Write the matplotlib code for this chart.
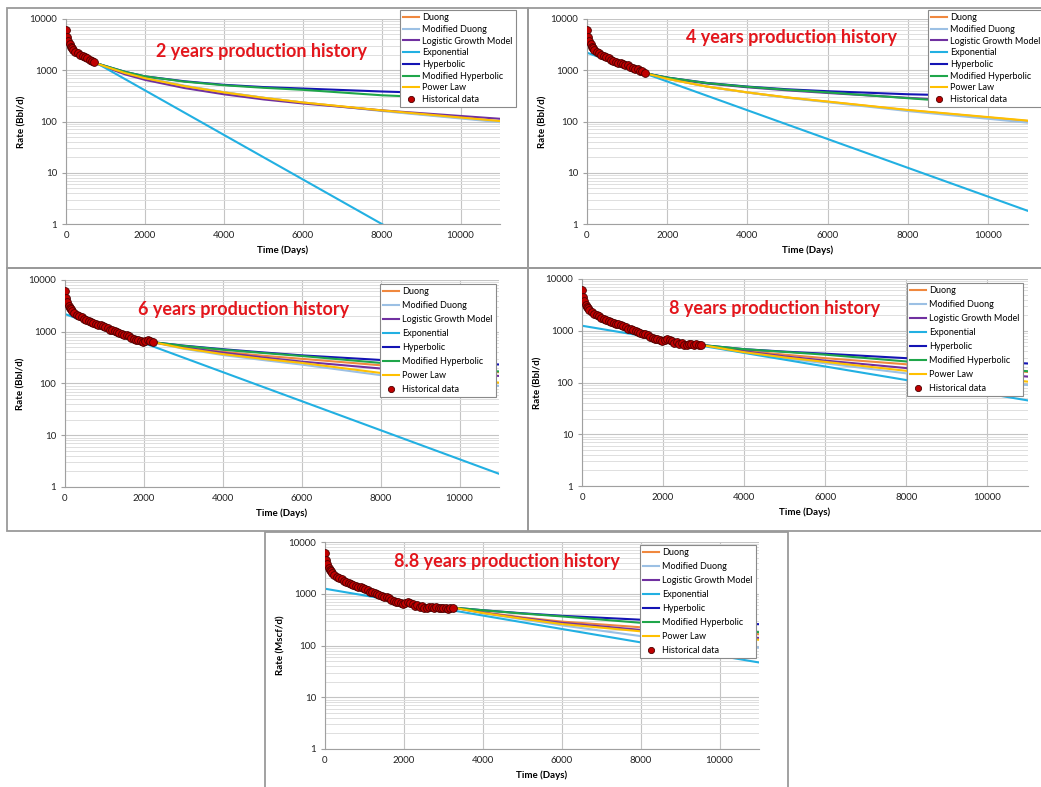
import matplotlib
matplotlib.use("Agg")
import matplotlib.pyplot as plt
from matplotlib.patches import Rectangle
from matplotlib.ticker import LogLocator, NullFormatter, FixedLocator

W, H = 1041, 787

# historical production (days, rate)
hist_t = [10, 30, 60, 90, 120, 150, 180, 240, 300, 360, 420, 480, 540, 600, 660, 720,
          780, 840, 900, 960, 1020, 1080, 1140, 1200, 1260, 1320, 1380, 1440, 1500, 1560,
          1620, 1680, 1740, 1800, 1860, 1920, 1980, 2040, 2100, 2160, 2220, 2280, 2340,
          2400, 2460, 2520, 2580, 2640, 2700, 2760, 2820, 2880, 2940, 3000, 3060, 3120,
          3180, 3240]
hist_q = [6000, 4500, 3700, 3200, 2900, 2700, 2500, 2300, 2150, 2000, 1900, 1800, 1700,
          1600, 1520, 1450, 1400, 1380, 1330, 1280, 1250, 1180, 1100, 1080, 1050, 980,
          950, 900, 870, 850, 820, 760, 720, 700, 680, 650, 620, 660, 680, 650, 630, 580,
          600, 560, 570, 540, 530, 560, 550, 540, 550, 540, 530, 540, 520, 500, 540, 530]
hist_end = [730, 1460, 2220, 2950, 3250]

titles = ["2 years production history", "4 years production history",
          "6 years production history", "8 years production history",
          "8.8 years production history"]
ylabels = ["Rate (Bbl/d)", "Rate (Bbl/d)", "Rate (Bbl/d)", "Rate (Bbl/d)", "Rate (Mscf/d)"]

# forecast curves, one row per panel
fc_t = [[730, 1000, 1500, 2000, 3000, 4000, 5000, 6000, 8000, 11000],
        [1460, 2000, 3000, 4000, 5000, 6000, 8000, 11000],
        [2220, 3000, 4000, 5000, 6000, 8000, 11000],
        [2950, 4000, 5000, 6000, 8000, 11000],
        [3250, 4000, 5000, 6000, 8000, 11000]]
duong = [[1400, 1180, 880, 700, 490, 370, 290, 235, 163, 100],
         [870, 680, 478, 368, 293, 243, 166, 102],
         [630, 510, 410, 345, 300, 225, 165],
         [530, 410, 345, 295, 225, 160],
         [540, 440, 350, 290, 225, 165]]
mod_duong = [[1400, 1190, 900, 720, 500, 375, 292, 235, 160, 97],
             [870, 685, 480, 368, 290, 238, 160, 95],
             [630, 470, 355, 285, 232, 145, 90],
             [530, 380, 295, 235, 150, 89],
             [540, 420, 320, 245, 152, 91]]
logistic = [[1400, 1150, 830, 650, 450, 340, 270, 225, 165, 113],
            [870, 710, 550, 465, 405, 360, 290, 215],
            [630, 500, 395, 320, 265, 195, 140],
            [530, 400, 320, 265, 190, 130],
            [540, 430, 340, 275, 200, 140]]
hyperbolic = [[1400, 1210, 930, 760, 610, 520, 470, 440, 385, 330],
              [870, 720, 565, 480, 425, 390, 340, 300],
              [630, 540, 460, 400, 350, 285, 233],
              [530, 440, 395, 360, 295, 233],
              [540, 480, 420, 375, 315, 258]]
mod_hyperbolic = [[1400, 1210, 930, 760, 600, 510, 455, 415, 325, 260],
                  [870, 720, 560, 475, 415, 370, 285, 193],
                  [630, 535, 450, 390, 340, 250, 171],
                  [530, 440, 390, 345, 255, 165],
                  [540, 480, 415, 365, 275, 181]]
power_law = [[1400, 1180, 880, 700, 490, 370, 290, 235, 165, 102],
             [870, 680, 480, 370, 295, 245, 168, 104],
             [630, 480, 370, 300, 250, 160, 104],
             [530, 385, 305, 250, 168, 104],
             [540, 425, 330, 260, 188, 129]]
exp_t = [0, 11000]
exp_q = [[3000, 0.05], [2200, 1.8], [2200, 1.8], [1250, 45], [1250, 47]]

# layout in pixels
ax_px = [(66, 19, 500, 224), (587, 19, 1028, 224), (65, 280, 499, 487),
         (582, 279, 1028, 486), (325, 542, 759, 749)]
leg_px = [(400, 10), (928, 10), (380, 284), (907, 283), (640, 545)]
leg_space = [0.3, 0.3, 0.55, 0.55, 0.55]
frame_px = [(7, 8, 528, 268), (528, 8, 1045, 268), (7, 268, 528, 531),
            (528, 268, 1045, 531), (265, 532, 788, 790)]
title_px = [(261, 52), (792, 38), (244, 310), (775, 309), (507, 561)]

c_duong = "#f0883e"
c_modduong = "#9cc0e4"
c_logistic = "#7030a0"
c_exp = "#22b0e2"
c_hyp = "#1414b4"
c_modhyp = "#1fa64a"
c_power = "#ffc000"

plt.rcParams['font.family'] = ['Lato', 'DejaVu Sans']

fig = plt.figure(figsize=(W / 100, H / 100), dpi=100)

for (x0, y0, x1, y1) in frame_px:
    fig.patches.append(Rectangle((x0 / W, 1 - y1 / H), (x1 - x0) / W, (y1 - y0) / H,
                                 transform=fig.transFigure, fill=False,
                                 edgecolor="#9a9a9a", lw=1.3))

for i in range(5):
    l, t, r, b = ax_px[i]
    ax = fig.add_axes([l / W, 1 - b / H, (r - l) / W, (b - t) / H])
    ax.set_yscale("log")
    lw = 1.5
    ax.plot(fc_t[i], duong[i], color=c_duong, lw=lw, label="Duong")
    ax.plot(fc_t[i], mod_duong[i], color=c_modduong, lw=lw, label="Modified Duong")
    ax.plot(fc_t[i], logistic[i], color=c_logistic, lw=lw, label="Logistic Growth Model")
    ax.plot(exp_t, exp_q[i], color=c_exp, lw=lw, label="Exponential")
    ax.plot(fc_t[i], hyperbolic[i], color=c_hyp, lw=lw, label="Hyperbolic")
    ax.plot(fc_t[i], mod_hyperbolic[i], color=c_modhyp, lw=lw, label="Modified Hyperbolic")
    ax.plot(fc_t[i], power_law[i], color=c_power, lw=lw, label="Power Law")
    ht = [t for t in hist_t if t <= hist_end[i]]
    hq = hist_q[:len(ht)]
    ax.plot(ht, hq, "o", color="#c00000", mec="#4a0000", mew=0.6, ms=5.6,
            zorder=5, label="Historical data")

    ax.set_xlim(0, 11000)
    ax.set_ylim(1, 10000)
    ax.xaxis.set_major_locator(FixedLocator([0, 2000, 4000, 6000, 8000, 10000]))
    ax.set_yticks([1, 10, 100, 1000, 10000])
    ax.set_yticklabels(["1", "10", "100", "1000", "10000"])
    ax.yaxis.set_minor_locator(LogLocator(base=10, subs=range(2, 10)))
    ax.yaxis.set_minor_formatter(NullFormatter())
    ax.grid(True, which="major", axis="both", color="#c4c4c4", lw=0.8)
    ax.grid(True, which="minor", axis="y", color="#dedede", lw=0.7)
    ax.set_axisbelow(True)
    for s in ["top", "right"]:
        ax.spines[s].set_visible(False)
    ax.spines["left"].set_color("#a0a0a0")
    ax.spines["bottom"].set_color("#a0a0a0")
    ax.tick_params(axis="both", which="major", labelsize=7, length=3, color="#a0a0a0",
                   labelcolor="#222222")
    ax.tick_params(axis="y", which="minor", length=0)
    ax.tick_params(axis="x", length=0, pad=5)
    ax.set_xlabel("Time (Days)", fontsize=7, fontweight="bold", labelpad=4)
    ax.set_ylabel(ylabels[i], fontsize=7, fontweight="bold", labelpad=2)

    tx, ty = title_px[i]
    fig.text(tx / W, 1 - ty / H, titles[i], color="#e3161c", fontsize=13,
             fontweight="bold", ha="center", va="center")

    lx, ly = leg_px[i]
    leg = ax.legend(loc="upper left", bbox_to_anchor=(lx / W, 1 - ly / H),
                    bbox_transform=fig.transFigure, fontsize=6.5, frameon=True,
                    fancybox=False, edgecolor="#8a8a8a", framealpha=1,
                    labelspacing=leg_space[i], handlelength=1.8, handletextpad=0.3,
                    borderpad=0.35, borderaxespad=0, markerscale=0.8)
    leg.get_frame().set_linewidth(0.8)
    leg.set_zorder(10)

fig.savefig("out.png", dpi=100)
